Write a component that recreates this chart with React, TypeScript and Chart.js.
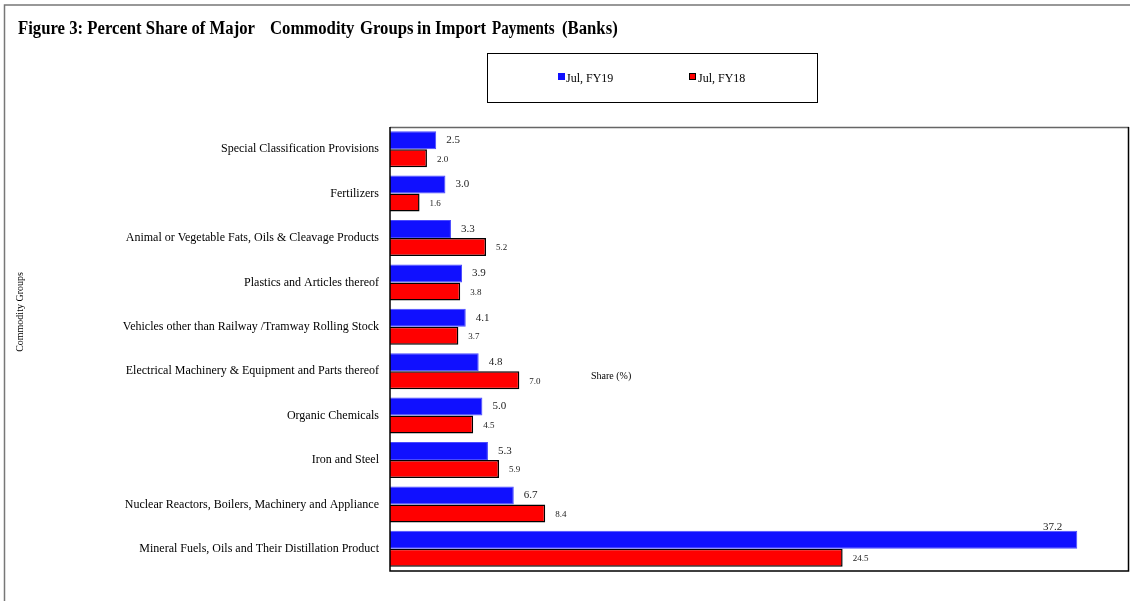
import { useEffect, useRef } from 'react';
import { Chart, registerables } from 'chart.js';

Chart.register(...registerables);

const categories = [
  'Special Classification Provisions',
  'Fertilizers',
  'Animal or Vegetable Fats, Oils & Cleavage Products',
  'Plastics and Articles thereof',
  'Vehicles other than Railway /Tramway Rolling Stock',
  'Electrical Machinery & Equipment and Parts thereof',
  'Organic Chemicals',
  'Iron and Steel',
  'Nuclear Reactors, Boilers, Machinery and Appliance',
  'Mineral Fuels, Oils and Their Distillation Product',
];
const fy19 = [2.5, 3.0, 3.3, 3.9, 4.1, 4.8, 5.0, 5.3, 6.7, 37.2];
const fy18 = [2.0, 1.6, 5.2, 3.8, 3.7, 7.0, 4.5, 5.9, 8.4, 24.5];
const seriesNames = ['Jul, FY19', 'Jul, FY18'];
// title pieces as laid out in the figure (justified text)
const titlePieces = ['Figure 3: Percent Share of Major', 'Commodity', 'Groups', 'in Import', 'Payments', '(Banks)'];
const titlePieceX = [18, 270, 360, 417, 492, 562];
const titlePieceScale = [1, 1, 1, 1, 0.9, 1];
const xAxisTitle = 'Share (%)';
const yAxisTitle = 'Commodity Groups';
const xMax = 40;

const SERIF = '"Liberation Serif", "Times New Roman", serif';

const decorPlugin = {
  id: 'decor',
  beforeDraw(chart: any) {
    const ctx = chart.ctx as CanvasRenderingContext2D;
    ctx.save();
    ctx.fillStyle = '#fff';
    ctx.fillRect(0, 0, chart.width, chart.height);
    // outer frame
    ctx.strokeStyle = '#777';
    ctx.lineWidth = 1.5;
    ctx.beginPath();
    ctx.moveTo(4.5, chart.height);
    ctx.lineTo(4.5, 5);
    ctx.lineTo(chart.width, 5);
    ctx.stroke();
    // title (condensed bold, justified)
    ctx.fillStyle = '#000';
    ctx.font = `bold 18px ${SERIF}`;
    ctx.textBaseline = 'alphabetic';
    ctx.textAlign = 'left';
    const sx = 237 / ctx.measureText(titlePieces[0]).width;
    titlePieces.forEach((p, i) => {
      ctx.save();
      ctx.translate(titlePieceX[i], 34);
      ctx.scale(sx * titlePieceScale[i], 1);
      ctx.fillText(p, 0, 0);
      ctx.restore();
    });
    // legend box
    ctx.strokeStyle = '#000';
    ctx.lineWidth = 1;
    ctx.strokeRect(487.5, 53.5, 330, 49);
    ctx.font = `12px ${SERIF}`;
    ctx.fillStyle = '#1010ff';
    ctx.fillRect(558, 73, 7, 7);
    ctx.fillStyle = '#000';
    ctx.fillText(seriesNames[0], 566, 82);
    ctx.fillStyle = '#ff0000';
    ctx.fillRect(689, 73, 7, 7);
    ctx.strokeStyle = '#000';
    ctx.strokeRect(689.5, 73.5, 6, 6);
    ctx.fillStyle = '#000';
    ctx.fillText(seriesNames[1], 698, 82);
    ctx.restore();
  },
  afterDatasetsDraw(chart: any) {
    const ctx = chart.ctx as CanvasRenderingContext2D;
    const a = chart.chartArea;
    ctx.save();
    // plot frame
    ctx.lineWidth = 1.5;
    ctx.strokeStyle = '#666';
    ctx.beginPath();
    ctx.moveTo(a.left, a.top + 0.5);
    ctx.lineTo(a.right, a.top + 0.5);
    ctx.stroke();
    ctx.strokeStyle = '#000';
    ctx.beginPath();
    ctx.moveTo(a.right - 0.5, a.top);
    ctx.lineTo(a.right - 0.5, a.bottom);
    ctx.lineTo(a.left, a.bottom);
    ctx.lineTo(a.left, a.top);
    ctx.stroke();
    // data labels
    chart.data.datasets.forEach((ds: any, di: number) => {
      const meta = chart.getDatasetMeta(di);
      ctx.fillStyle = '#222';
      ctx.font = di === 0 ? `11px ${SERIF}` : `9px ${SERIF}`;
      ctx.textBaseline = 'middle';
      meta.data.forEach((bar: any, i: number) => {
        const txt = Number(ds.data[i]).toFixed(1);
        const w = ctx.measureText(txt).width;
        let x = bar.x + 10;
        let y = bar.y + (di === 0 ? 0 : 1);
        if (x + w > a.right - 40) {
          ctx.textAlign = 'right';
          x = bar.x - 15;
          y = bar.y - bar.height / 2 - 4;
        } else {
          ctx.textAlign = 'left';
        }
        ctx.fillText(txt, x, y);
      });
    });
    // axis titles
    ctx.fillStyle = '#000';
    ctx.font = `10px ${SERIF}`;
    ctx.textAlign = 'left';
    ctx.textBaseline = 'middle';
    ctx.fillText(xAxisTitle, 591, 376);
    ctx.translate(20, 312);
    ctx.rotate(-Math.PI / 2);
    ctx.textAlign = 'center';
    ctx.fillText(yAxisTitle, 0, 0);
    ctx.restore();
  },
};

export default function App() {
  const ref = useRef<HTMLCanvasElement | null>(null);
  useEffect(() => {
    if (!ref.current) return;
    const chart = new Chart(ref.current, {
      type: 'bar',
      data: {
        labels: categories,
        datasets: [
          {
            label: seriesNames[0],
            data: fy19,
            backgroundColor: '#1010ff',
            borderColor: '#4a4aff',
            borderWidth: 1,
            categoryPercentage: 0.81,
            barPercentage: 1,
          },
          {
            label: seriesNames[1],
            data: fy18,
            backgroundColor: '#ff0000',
            borderColor: '#000',
            borderWidth: 1.5,
            categoryPercentage: 0.81,
            barPercentage: 1,
          },
        ],
      },
      options: {
        indexAxis: 'y',
        animation: false,
        responsive: false,
        layout: { padding: { left: 0, top: 127, right: 1, bottom: 30 } },
        plugins: {
          legend: { display: false },
          title: { display: false },
          tooltip: { enabled: false },
        },
        scales: {
          x: {
            display: false,
            min: 0,
            max: xMax,
          },
          y: {
            grid: { display: false, drawTicks: false },
            border: { display: false },
            ticks: {
              color: '#000',
              padding: 11,
              font: { family: SERIF, size: 12 },
            },
            afterFit(scale: any) {
              scale.width = 390;
            },
          },
        },
      },
      plugins: [decorPlugin],
    } as any);
    return () => chart.destroy();
  }, []);
  return (
    <div style={{ position: 'fixed', left: 0, top: 0, width: 1130, height: 601, background: '#fff' }}>
      <canvas ref={ref} width={1130} height={601} style={{ width: 1130, height: 601, display: 'block' }} />
    </div>
  );
}
